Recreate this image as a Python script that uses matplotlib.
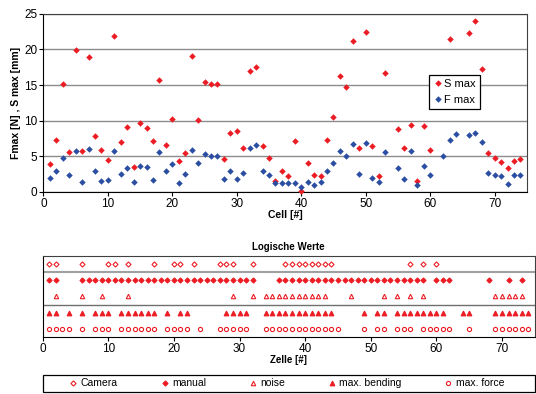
import matplotlib
matplotlib.use('Agg')
import matplotlib.pyplot as plt
import numpy as np
from matplotlib.patches import Rectangle

plt.rcParams['font.family'] = ['Liberation Sans', 'DejaVu Sans']

nan = np.nan

# cell number of each measurement
cells = list(range(1, 75))

# S max [mm] per cell (red)
s_max = [3.9, 7.3, 15.2, 5.6, 19.9, 5.8, 18.9, 7.8, 5.9, 4.5,
         21.9, 7.0, 9.1, 3.5, 9.6, 8.9, 7.1, 15.7, 6.6, 10.3,
         4.3, 5.5, 19.1, 10.1, 15.4, 15.1, 15.2, 4.6, 8.2, 8.6,
         6.1, 16.9, 17.5, 6.4, 4.8, 1.5, 2.9, 2.2, 7.1, 0.1,
         4.0, 2.4, 2.2, 7.3, 10.5, 16.3, 14.7, 21.2, 6.1, 22.4,
         6.4, 2.2, 16.7, nan, 8.8, 6.1, 9.4, 1.5, 9.2, 5.9,
         nan, nan, 21.5, nan, nan, 22.3, 24.0, 17.2, 5.4, 4.7,
         4.2, 3.3, 4.4, 4.6]

# F max [N] per cell (blue)
f_max = [1.9, 2.9, 4.8, 2.4, 5.8, 1.4, 6.0, 3.0, 1.5, 1.6,
         5.8, 2.5, 3.4, 1.4, 3.7, 3.5, 1.6, 5.6, 2.9, 3.9,
         1.3, 2.5, 5.9, 4.1, 5.3, 5.1, 5.0, 1.8, 3.0, 1.8,
         2.6, 6.2, 6.6, 2.9, 2.3, 1.3, 1.2, 1.3, 1.2, 0.7,
         1.4, 1.0, 1.4, 2.9, 4.1, 5.8, 5.1, 6.7, 2.5, 6.9,
         1.9, 1.4, 5.6, nan, 3.3, 1.8, 5.8, 0.9, 3.6, 2.4,
         nan, 5.0, 7.3, 8.1, nan, 8.0, 8.2, 7.0, 2.6, 2.3,
         2.2, 1.1, 2.3, 2.3]

# logical values: cells where each flag is set
camera_cells = [1, 2, 6, 10, 11, 13, 17, 20, 21, 23, 27, 28, 29, 32,
                37, 38, 39, 40, 41, 42, 43, 44, 56, 58, 60]
manual_cells = [1, 2, 6, 7, 8, 9, 10, 11, 12, 13, 14, 15, 16, 17, 18, 19,
                20, 21, 22, 23, 24, 25, 26, 27, 28, 29, 30, 31, 32,
                36, 37, 38, 39, 40, 41, 42, 43, 44, 45, 46, 47, 48, 49,
                50, 51, 52, 53, 54, 55, 56, 57, 58, 60, 61, 62, 68, 71, 73]
noise_cells = [2, 6, 9, 13, 29, 32, 34, 35, 36, 37, 38, 39, 40, 41, 42, 43,
               47, 52, 54, 56, 58, 69, 70, 71, 72, 73]
bending_cells = [1, 2, 4, 6, 8, 9, 10, 12, 13, 14, 15, 16, 17, 19, 21, 22,
                 28, 29, 30, 31, 34, 35, 36, 37, 38, 39, 40, 41, 42, 43, 44,
                 49, 51, 52, 54, 55, 56, 57, 58, 59, 60, 61, 64, 65,
                 69, 70, 71, 72, 73, 74]
force_cells = [1, 2, 3, 4, 6, 8, 9, 10, 12, 13, 14, 15, 16, 17, 19, 20, 21,
               22, 24, 27, 28, 29, 30, 31, 34, 35, 36, 37, 38, 39, 40, 41,
               42, 43, 44, 45, 49, 51, 52, 54, 55, 56, 58, 59, 60, 61, 62,
               65, 69, 70, 71, 72, 73, 74]

RED = '#ec1c24'
BLUE = '#2b4ea2'

fig = plt.figure(figsize=(5.36, 3.94), dpi=100)

# ---- top: S max / F max scatter
ax = fig.add_axes([0.081, 0.513, 0.902, 0.452])
ax.plot(cells, s_max, 'D', color=RED, ms=3.3, mew=0, label='S max', clip_on=False, zorder=3)
ax.plot(cells, f_max, 'D', color=BLUE, ms=3.3, mew=0, label='F max', clip_on=False, zorder=3)
ax.set_xlim(0, 75)
ax.set_ylim(0, 25)
ax.set_xticks(range(0, 80, 10))
ax.set_yticks(range(0, 30, 5))
ax.yaxis.grid(True, color='#8c8c8c', lw=1)
ax.set_axisbelow(True)
ax.tick_params(labelsize=8.5, length=3, direction='out', pad=1.5)
for sp in ['top', 'right']:
    ax.spines[sp].set_color('#404040')
ax.set_xlabel('Cell [#]', fontsize=7.5, fontweight='bold', labelpad=0)
ax.set_ylabel('Fmax [N] , S max [mm]', fontsize=7.5, fontweight='bold', labelpad=2)
leg = ax.legend(loc='upper left', bbox_to_anchor=(0.797, 0.658), fontsize=8,
                frameon=True, fancybox=False, edgecolor='black', framealpha=1,
                handlelength=0.8, handletextpad=0.2, borderpad=0.4, labelspacing=0.5,
                borderaxespad=0)
leg.get_frame().set_linewidth(0.9)

# ---- bottom: logical values
ax2 = fig.add_axes([0.0797, 0.1447, 0.918, 0.2056])
rows = [(camera_cells, 4.5, 'D', 'none', 'Camera', 2.6),
        (manual_cells, 3.5, 'D', RED, 'manual', 2.6),
        (noise_cells, 2.5, '^', 'none', 'noise', 3.2),
        (bending_cells, 1.5, '^', RED, 'max. bending', 3.4),
        (force_cells, 0.5, 'o', 'none', 'max. force', 3.0)]
for rc, yv, mk, fc, lab, ms in rows:
    ax2.plot(rc, [yv] * len(rc), mk, mfc=fc, mec=RED, mew=0.8, ms=ms, ls='none',
             label=lab, clip_on=False)
ax2.axhline(4, color='#a0a0a0', lw=1.5)
ax2.axhline(2, color='#707070', lw=1)
ax2.set_xlim(0, 75)
ax2.set_ylim(0, 5)
ax2.set_xticks(range(0, 80, 10))
ax2.set_yticks([])
ax2.tick_params(labelsize=8.5, length=3, direction='out', pad=1.5)
for sp in ['top', 'right']:
    ax2.spines[sp].set_color('#404040')
ax2.set_title('Logische Werte', fontsize=7, fontweight='bold', pad=4)
ax2.set_xlabel('Zelle [#]', fontsize=7, fontweight='bold', labelpad=0)

# bottom legend: box spanning the chart width, entries spread inside it
fig.patches.append(Rectangle((0.081, 0.005), 0.917, 0.043, transform=fig.transFigure,
                             fill=False, edgecolor='black', lw=0.9))
h, l = ax2.get_legend_handles_labels()
fig.legend(h, l, loc='center', bbox_to_anchor=(0.535, 0.027), ncol=5, fontsize=7.5,
           frameon=False, handlelength=0.8, handletextpad=0.3, columnspacing=4.1,
           borderpad=0, borderaxespad=0)

fig.savefig('out.png', dpi=100)
